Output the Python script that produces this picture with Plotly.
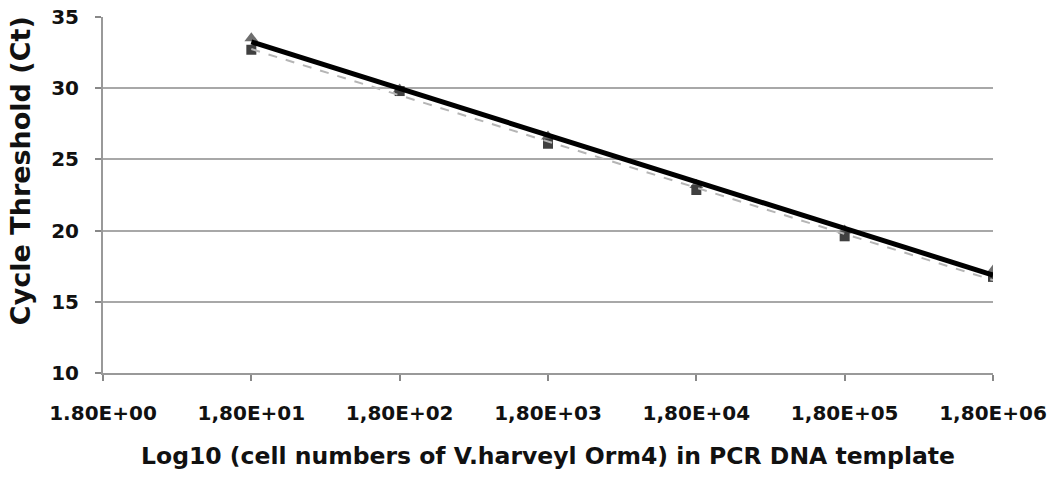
import numpy as np
import plotly.graph_objects as go

# Data
cell_numbers = [1.8e1, 1.8e2, 1.8e3, 1.8e4, 1.8e5, 1.8e6]
ct_series_a = [33.5, 29.9, 26.6, 23.2, 20.0, 17.2]    # triangles
ct_series_b = [32.7, 29.8, 26.1, 22.85, 19.6, 16.75]  # squares
tick_values = [1.8e0, 1.8e1, 1.8e2, 1.8e3, 1.8e4, 1.8e5, 1.8e6]
tick_labels = ["1.80E+00", "1,80E+01", "1,80E+02", "1,80E+03",
               "1,80E+04", "1,80E+05", "1,80E+06"]
y_ticks = [10, 15, 20, 25, 30, 35]


def linear_trend(xs, ys):
    lx = np.log10(xs)
    k, b = np.polyfit(lx, ys, 1)
    return [xs[0], xs[-1]], [k * lx[0] + b, k * lx[-1] + b]


fig = go.Figure()

fig.add_trace(go.Scatter(
    x=cell_numbers, y=ct_series_a, mode="markers",
    marker=dict(symbol="triangle-up", size=12, color="#6e6e6e"),
    showlegend=False))
fig.add_trace(go.Scatter(
    x=cell_numbers, y=ct_series_b, mode="markers",
    marker=dict(symbol="square", size=10, color="#404040"),
    showlegend=False))

tx, ty = linear_trend(cell_numbers, ct_series_b)
fig.add_trace(go.Scatter(x=tx, y=ty, mode="lines",
                         line=dict(color="#b5b5b5", width=2, dash="dash"),
                         showlegend=False))
tx, ty = linear_trend(cell_numbers, ct_series_a)
fig.add_trace(go.Scatter(x=tx, y=ty, mode="lines",
                         line=dict(color="#000000", width=5),
                         showlegend=False))

font_main = "DejaVu Sans, Liberation Sans, Arial, sans-serif"

fig.update_layout(
    width=1049, height=477,
    margin=dict(l=103, r=56, t=17, b=104),
    plot_bgcolor="white", paper_bgcolor="white",
    font=dict(family=font_main, color="#111111"),
)
fig.update_xaxes(
    type="log", range=[np.log10(1.8), np.log10(1.8e6)],
    tickmode="array", tickvals=tick_values, ticktext=tick_labels,
    tickfont=dict(size=20, family=font_main, weight="bold"),
    ticks="outside", ticklen=6, tickcolor="#888888", tickwidth=2,
    showline=True, linecolor="#999999", linewidth=2,
    showgrid=False, zeroline=False, automargin=False,
    ticklabelstandoff=15,
    title=dict(text="Log10 (cell numbers of V.harveyl Orm4) in PCR DNA template",
               font=dict(size=23.5, family=font_main, weight="bold"), standoff=24),
)
fig.update_yaxes(
    range=[10, 35], tickmode="array", tickvals=y_ticks,
    tickfont=dict(size=20, family=font_main, weight="bold"),
    ticks="outside", ticklen=6, tickcolor="#888888", tickwidth=2,
    showline=True, linecolor="#999999", linewidth=2,
    showgrid=True, gridcolor="#a8a8a8", gridwidth=2,
    zeroline=False, automargin=False, ticklabelstandoff=12,
)
fig.add_annotation(
    text="Cycle Threshold (Ct)", textangle=-90,
    xref="paper", yref="paper", x=0, y=0.567,
    xanchor="center", yanchor="middle", xshift=-83, showarrow=False,
    font=dict(size=27, family=font_main, weight="bold", color="#111111"),
)

fig.write_html("out.html",
               config={"displayModeBar": False},
               post_script="document.body.style.margin='0';"
                           "document.body.style.overflow='hidden';")
